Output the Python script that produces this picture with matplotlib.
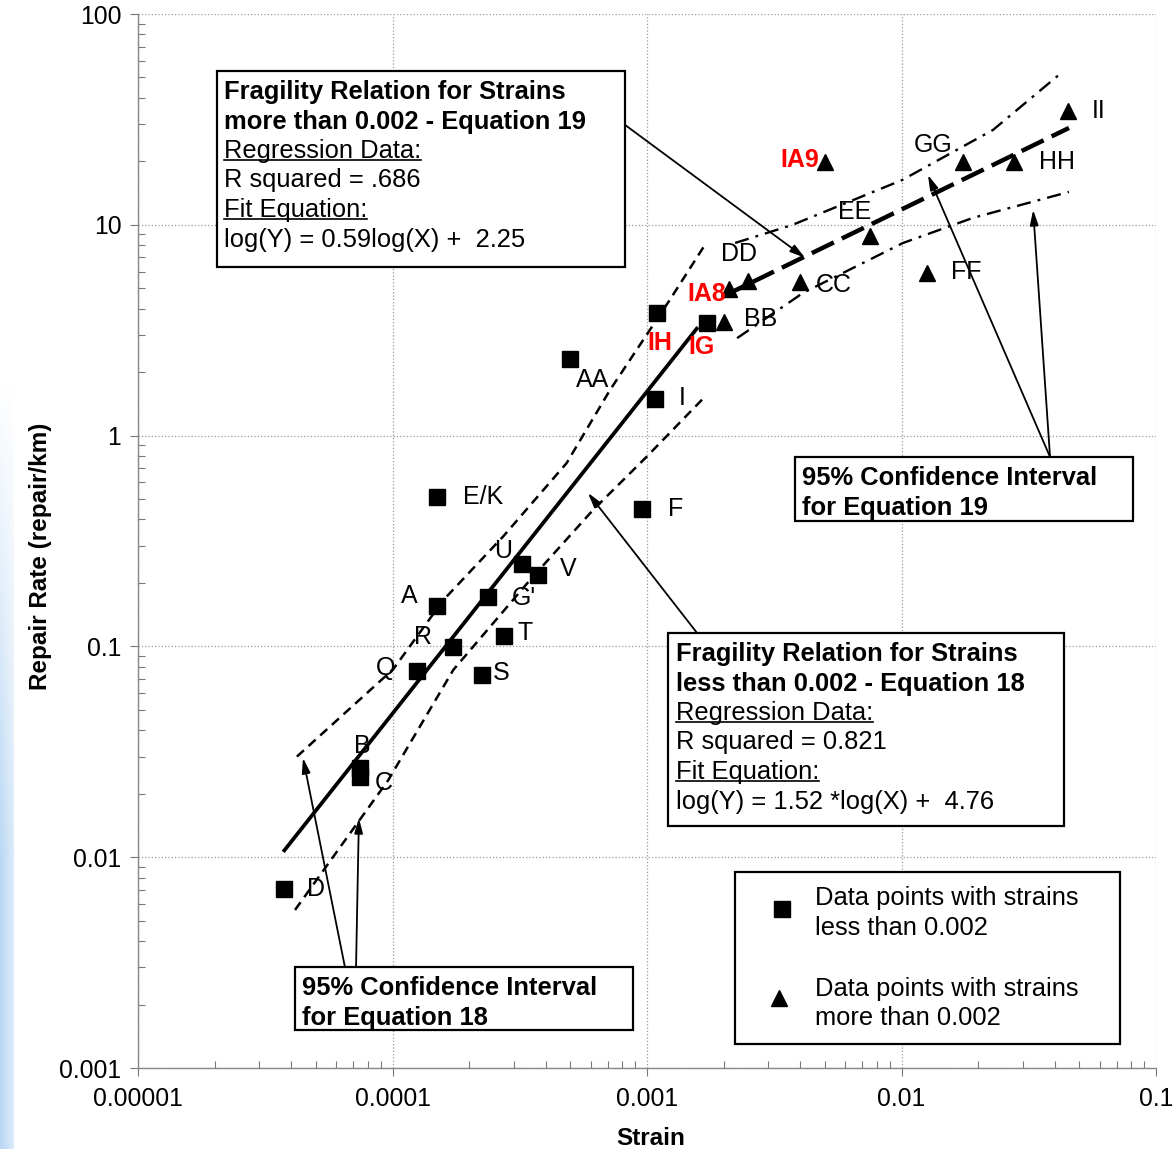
import numpy as np
import matplotlib.pyplot as plt
from matplotlib.patches import Rectangle
from matplotlib.lines import Line2D
from matplotlib.ticker import LogLocator, NullFormatter

plt.rcParams['font.family'] = ['Liberation Sans', 'DejaVu Sans']

W, H = 1175, 1149

# data points with strains less than 0.002 (squares)
sq_labels = ['D', 'B', 'C', 'Q', 'R', 'S', 'A', "G'", 'T', 'U', 'V', 'E/K',
             'AA', 'F', 'I', 'IH', 'IG']
sq_strain = [3.75e-5, 7.45e-5, 7.45e-5, 1.25e-4, 1.73e-4, 2.25e-4, 1.50e-4,
             2.37e-4, 2.74e-4, 3.23e-4, 3.73e-4, 1.50e-4, 4.98e-4, 9.55e-4,
             1.074e-3, 1.094e-3, 1.72e-3]
sq_rate = [0.00708, 0.0265, 0.0240, 0.0765, 0.0995, 0.0733, 0.156, 0.172,
           0.112, 0.246, 0.218, 0.512, 2.31, 0.449, 1.49, 3.82, 3.41]

# data points with strains more than 0.002 (triangles)
tri_labels = ['BB', 'IA8', 'DD', 'CC', 'EE', 'IA9', 'FF', 'GG', 'HH', 'II']
tri_strain = [2.01e-3, 2.10e-3, 2.49e-3, 3.99e-3, 7.52e-3, 5.0e-3, 1.26e-2,
              1.75e-2, 2.77e-2, 4.51e-2]
tri_rate = [3.46, 4.97, 5.42, 5.36, 8.86, 19.9, 5.91, 19.9, 19.9, 34.7]

red_labels = ['IH', 'IG', 'IA8', 'IA9']

# regression lines
reg18_strain = [3.72e-5, 1.585e-3]
reg18_rate = [0.0106, 3.27]
reg19_strain = [1.97e-3, 4.55e-2]
reg19_rate = [4.55, 28.8]

# 95% confidence bands
ci18_up_strain = [4.21e-5, 1.007e-4, 1.585e-4, 2.72e-4, 4.83e-4, 7.16e-4, 1.23e-3, 1.69e-3]
ci18_up_rate = [0.0300, 0.0780, 0.166, 0.332, 0.740, 1.648, 4.41, 8.04]
ci18_lo_strain = [4.14e-5, 9.62e-5, 1.734e-4, 3.47e-4, 6.15e-4, 9.98e-4, 1.69e-3]
ci18_lo_rate = [0.00562, 0.0232, 0.0774, 0.2065, 0.445, 0.795, 1.531]
ci19_up_strain = [2.22e-3, 3.72e-3, 1.005e-2, 2.29e-2, 4.24e-2]
ci19_up_rate = [8.20, 9.98, 16.3, 28.2, 52.5]
ci19_lo_strain = [2.26e-3, 4.10e-3, 1.014e-2, 1.91e-2, 4.55e-2]
ci19_lo_rate = [2.90, 4.75, 8.20, 10.79, 14.32]

x_ticks = [1e-5, 1e-4, 1e-3, 1e-2, 1e-1]
x_ticklabels = ['0.00001', '0.0001', '0.001', '0.01', '0.1']
y_ticks = [1e-3, 1e-2, 1e-1, 1, 10, 100]
y_ticklabels = ['0.001', '0.01', '0.1', '1', '10', '100']

# label offsets in points (dx, dy)
label_offsets = {
    'D': (23, 0), 'B': (2, 16), 'C': (17, -4), 'Q': (-23, 2), 'R': (-22, 7),
    'S': (14, 1), 'A': (-20, 7), "G'": (26, -1), 'T': (15, 2), 'U': (-14, 9),
    'V': (22, 4), 'E/K': (33, 0), 'AA': (16, -15), 'F': (24, 0), 'I': (20, 1),
    'IH': (2, -22), 'IG': (-4, -17),
    'BB': (26, 2), 'IA8': (-16, -4), 'DD': (-6, 19), 'CC': (24, -2),
    'EE': (-11, 17), 'IA9': (-18, 1), 'FF': (28, 1), 'GG': (-22, 12),
    'HH': (31, 0), 'II': (22, 0),
}


def fx(px):
    return px / W


def fy(py):
    return 1 - py / H


fig = plt.figure(figsize=(W / 100, H / 100), dpi=100)

# light blue strip at the left edge of the screenshot
bg = fig.add_axes([0, 0, 14 / W, (H - 380) / H])
gy = np.linspace(0, 1, 200)[:, None]
gx = np.linspace(0, 1, 20)[None, :]
grad = np.clip(gy * 1.6, 0, 1) * (1 - 0.5 * gx)
bg.imshow(grad, cmap=plt.matplotlib.colors.LinearSegmentedColormap.from_list(
    'b', ['white', '#b9d7f3']), aspect='auto', origin='upper', vmin=0, vmax=1)
bg.axis('off')

ax = fig.add_axes([138 / W, 1 - 1068 / H, 1018 / W, 1054 / H])
ax.set_xscale('log')
ax.set_yscale('log')
ax.set_xlim(1e-5, 1e-1)
ax.set_ylim(1e-3, 100)

ax.set_xticks(x_ticks)
ax.set_xticklabels(x_ticklabels)
ax.set_yticks(y_ticks)
ax.set_yticklabels(y_ticklabels)
ax.xaxis.set_minor_locator(LogLocator(base=10, subs=np.arange(2, 10)))
ax.yaxis.set_minor_locator(LogLocator(base=10, subs=np.arange(2, 10)))
ax.xaxis.set_minor_formatter(NullFormatter())
ax.yaxis.set_minor_formatter(NullFormatter())
ax.tick_params(which='major', direction='out', length=6, width=0.8,
               color='#777777', labelsize=17.8, pad=6)
ax.tick_params(axis='x', which='major', pad=8)
ax.tick_params(which='minor', direction='in', length=5, width=0.8, color='#777777')
ax.grid(True, which='major', color='#999999', linestyle=':', linewidth=0.9)
for s in ['top', 'right']:
    ax.spines[s].set_visible(False)
for s in ['left', 'bottom']:
    ax.spines[s].set_color('#888888')
    ax.spines[s].set_linewidth(1.0)

ax.set_xlabel('Strain', fontsize=17.5, fontweight='bold')
ax.set_ylabel('Repair Rate (repair/km)', fontsize=17.5, fontweight='bold')
ax.xaxis.set_label_coords(0.504, -0.056)
ax.yaxis.set_label_coords(-0.084, 0.485)

# regression lines and bands
ax.plot(reg18_strain, reg18_rate, color='black', lw=2.7, solid_capstyle='butt')
ax.plot(reg19_strain, reg19_rate, color='black', lw=3.2, dashes=(5.5, 2))
ax.plot(ci18_up_strain, ci18_up_rate, color='black', lw=1.8, dashes=(3.8, 2.5))
ax.plot(ci18_lo_strain, ci18_lo_rate, color='black', lw=1.8, dashes=(3.8, 2.5))
ax.plot(ci19_up_strain, ci19_up_rate, color='black', lw=1.7,
        dashes=(6, 3, 1.2, 3))
ax.plot(ci19_lo_strain, ci19_lo_rate, color='black', lw=1.7,
        dashes=(6, 3, 1.2, 3))

ax.plot(sq_strain, sq_rate, 's', color='black', markersize=11, zorder=5)
ax.plot(tri_strain, tri_rate, '^', color='black', markersize=11, zorder=5)

for lab, xs, ys in zip(sq_labels + tri_labels, sq_strain + tri_strain,
                       sq_rate + tri_rate):
    red = lab in red_labels
    ax.annotate(lab, (xs, ys), xytext=label_offsets[lab],
                textcoords='offset points', ha='center', va='center',
                fontsize=18, color='red' if red else 'black',
                fontweight='bold' if red else 'normal', zorder=6)

# arrows (tail -> head) in data coordinates
arrow_kw = dict(arrowstyle='-|>,head_length=0.9,head_width=0.25',
                color='black', lw=1.3, shrinkA=0, shrinkB=0)
ax.annotate('', xy=(4.18e-3, 6.97), xytext=(8.19e-4, 29.8), arrowprops=arrow_kw)
ax.annotate('', xy=(5.86e-4, 0.535), xytext=(1.572e-3, 0.1159), arrowprops=arrow_kw)
ax.annotate('', xy=(0.0127, 17.25), xytext=(0.03834, 0.792), arrowprops=arrow_kw)
ax.annotate('', xy=(0.0329, 11.77), xytext=(0.03834, 0.792), arrowprops=arrow_kw)
ax.annotate('', xy=(4.45e-5, 0.0296), xytext=(6.50e-5, 0.00302), arrowprops=arrow_kw)
ax.annotate('', xy=(7.38e-5, 0.01535), xytext=(7.19e-5, 0.00302), arrowprops=arrow_kw)

underlines = []
BOX_FS = 18.4


def text_box(x0, y0, x1, y1, lines, tx):
    fig.add_artist(Rectangle((fx(x0), fy(y1)), fx(x1) - fx(x0), fy(y0) - fy(y1),
                             transform=fig.transFigure, facecolor='white',
                             edgecolor='black', lw=1.6, zorder=10))
    for i, (s, bold, under) in enumerate(lines):
        yc = y0 + 21 + 29.5 * i
        t = fig.text(fx(tx), fy(yc), s, ha='left', va='center', fontsize=BOX_FS,
                     fontweight='bold' if bold else 'normal', zorder=11)
        if under:
            underlines.append((t, yc))


text_box(217, 71, 625, 267, [
    ('Fragility Relation for Strains', True, False),
    ('more than 0.002 - Equation 19', True, False),
    ('Regression Data:', False, True),
    ('R squared = .686', False, False),
    ('Fit Equation:', False, True),
    ('log(Y) = 0.59log(X) +  2.25', False, False),
], 224)

text_box(668, 633, 1064, 826, [
    ('Fragility Relation for Strains', True, False),
    ('less than 0.002 - Equation 18', True, False),
    ('Regression Data:', False, True),
    ('R squared = 0.821', False, False),
    ('Fit Equation:', False, True),
    ('log(Y) = 1.52 *log(X) +  4.76', False, False),
], 676)

text_box(795, 457, 1133, 521, [
    ('95% Confidence Interval', True, False),
    ('for Equation 19', True, False),
], 802)

text_box(295, 967, 633, 1030, [
    ('95% Confidence Interval', True, False),
    ('for Equation 18', True, False),
], 302)

# legend box
fig.add_artist(Rectangle((fx(735), fy(1044)), fx(1120) - fx(735), fy(872) - fy(1044),
                         transform=fig.transFigure, facecolor='white',
                         edgecolor='black', lw=1.6, zorder=10))
fig.add_artist(Line2D([fx(782)], [fy(909)], marker='s', color='black',
                      markersize=11, transform=fig.transFigure, zorder=11))
fig.add_artist(Line2D([fx(779)], [fy(998)], marker='^', color='black',
                      markersize=11, transform=fig.transFigure, zorder=11))
for s, yc in [('Data points with strains', 898), ('less than 0.002', 928),
              ('Data points with strains', 989), ('more than 0.002', 1018)]:
    fig.text(fx(815), fy(yc), s, ha='left', va='center', fontsize=BOX_FS, zorder=11)

# underline some of the box text
fig.canvas.draw()
for t, yc in underlines:
    bb = t.get_window_extent()
    fig.add_artist(Line2D([fx(bb.x0), fx(bb.x1)], [fy(yc + 9), fy(yc + 9)],
                          color='black', lw=1.2, transform=fig.transFigure,
                          zorder=11))

plt.savefig('out.png', dpi=100)
